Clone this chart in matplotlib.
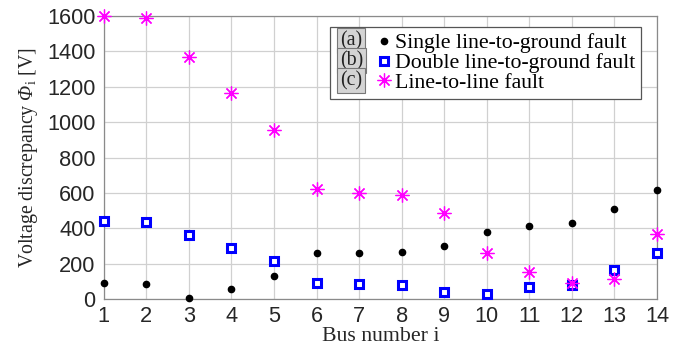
import numpy as np
import matplotlib.pyplot as plt
from matplotlib.legend_handler import HandlerBase
from matplotlib.lines import Line2D
from matplotlib.text import Text

# custom mathtext so the capital Phi can be drawn in italic serif
plt.rcParams['mathtext.fontset'] = 'custom'
plt.rcParams['mathtext.rm'] = 'Liberation Serif'
plt.rcParams['mathtext.it'] = 'Liberation Serif:italic'
plt.rcParams['mathtext.sf'] = 'Liberation Serif:italic'

# bus numbers and voltage discrepancy values
bus = [1, 2, 3, 4, 5, 6, 7, 8, 9, 10, 11, 12, 13, 14]
slg = [90, 87, 7, 55, 130, 258, 262, 267, 301, 378, 412, 431, 512, 616]
dlg = [442, 437, 360, 290, 215, 90, 85, 79, 43, 28, 66, 79, 164, 262]
ll = [1598, 1587, 1367, 1164, 955, 620, 601, 588, 484, 258, 151, 92, 111, 367]
tags = ['(a)', '(b)', '(c)']
labels = ['Single line-to-ground fault', 'Double line-to-ground fault', 'Line-to-line fault']


class TagHandler(HandlerBase):
    # draws a grey boxed tag to the left of the marker
    def __init__(self, tag):
        super().__init__()
        self.tag = tag

    def create_artists(self, legend, orig, xdescent, ydescent, width, height, fontsize, trans):
        y = height / 2 - ydescent
        m = Line2D([width - xdescent - 0.3 * fontsize], [y], ls='none',
                   marker=orig.get_marker(), ms=orig.get_markersize(),
                   mfc=orig.get_markerfacecolor(), mec=orig.get_markeredgecolor(),
                   mew=orig.get_markeredgewidth(), transform=trans)
        t = Text(-xdescent + 3, y, self.tag, ha='left', va='center', fontsize=fontsize * 0.92,
                 family='Liberation Serif', color='#222222', transform=trans,
                 bbox=dict(boxstyle='square,pad=0.14', fc='#d4d4d4', ec='#777777', lw=0.8))
        return [t, m]


fig = plt.figure(figsize=(6.83, 3.47), dpi=100)
ax = fig.add_axes([0.152, 0.138, 0.810, 0.816])

h1, = ax.plot(bus, slg, 'o', color='black', ms=4.5, clip_on=False, zorder=3)
h2, = ax.plot(bus, dlg, 's', mfc='white', mec='#0000ff', ms=6, mew=2.2, clip_on=False, zorder=3)
h3, = ax.plot(bus, ll, ls='none', marker=(8, 2, 0), color='#ff00ff', mec='#ff00ff', ms=10, mew=0.9,
              clip_on=False, zorder=3)

ax.set_xlim(1, 14)
ax.set_ylim(0, 1600)
ax.set_xticks(bus)
ax.set_yticks(np.arange(0, 1601, 200))
ax.grid(True, color='#d0d0d0', lw=0.9)
ax.set_axisbelow(True)
for s in ax.spines.values():
    s.set_color('#8a8a8a')
    s.set_linewidth(0.9)
ax.tick_params(direction='in', length=0, labelsize=15.7, labelcolor='#262626')
ax.tick_params(axis='x', pad=5)
ax.tick_params(axis='y', pad=6)
for lab in ax.get_xticklabels() + ax.get_yticklabels():
    lab.set_family('Liberation Sans')

ax.set_xlabel('Bus number i', family='Liberation Serif', fontsize=15.7, labelpad=0, color='#262626')
ax.set_ylabel(r'Voltage discrepancy $\mathsf{\Phi}_{\mathrm{i}}$ [V]', family='Liberation Serif',
              fontsize=14.3, labelpad=5, color='#262626')

leg = ax.legend([h1, h2, h3], labels, loc='upper right', bbox_to_anchor=(0.971, 0.961),
                borderaxespad=0,
                handler_map={h1: TagHandler(tags[0]), h2: TagHandler(tags[1]), h3: TagHandler(tags[2])},
                handlelength=2.5, handletextpad=0.2, labelspacing=-0.02, borderpad=0.28,
                fancybox=False, edgecolor='#555555', framealpha=1,
                prop={'family': 'Liberation Serif', 'size': 15.7})
leg.get_frame().set_linewidth(0.9)

fig.savefig('out.png', dpi=100)
